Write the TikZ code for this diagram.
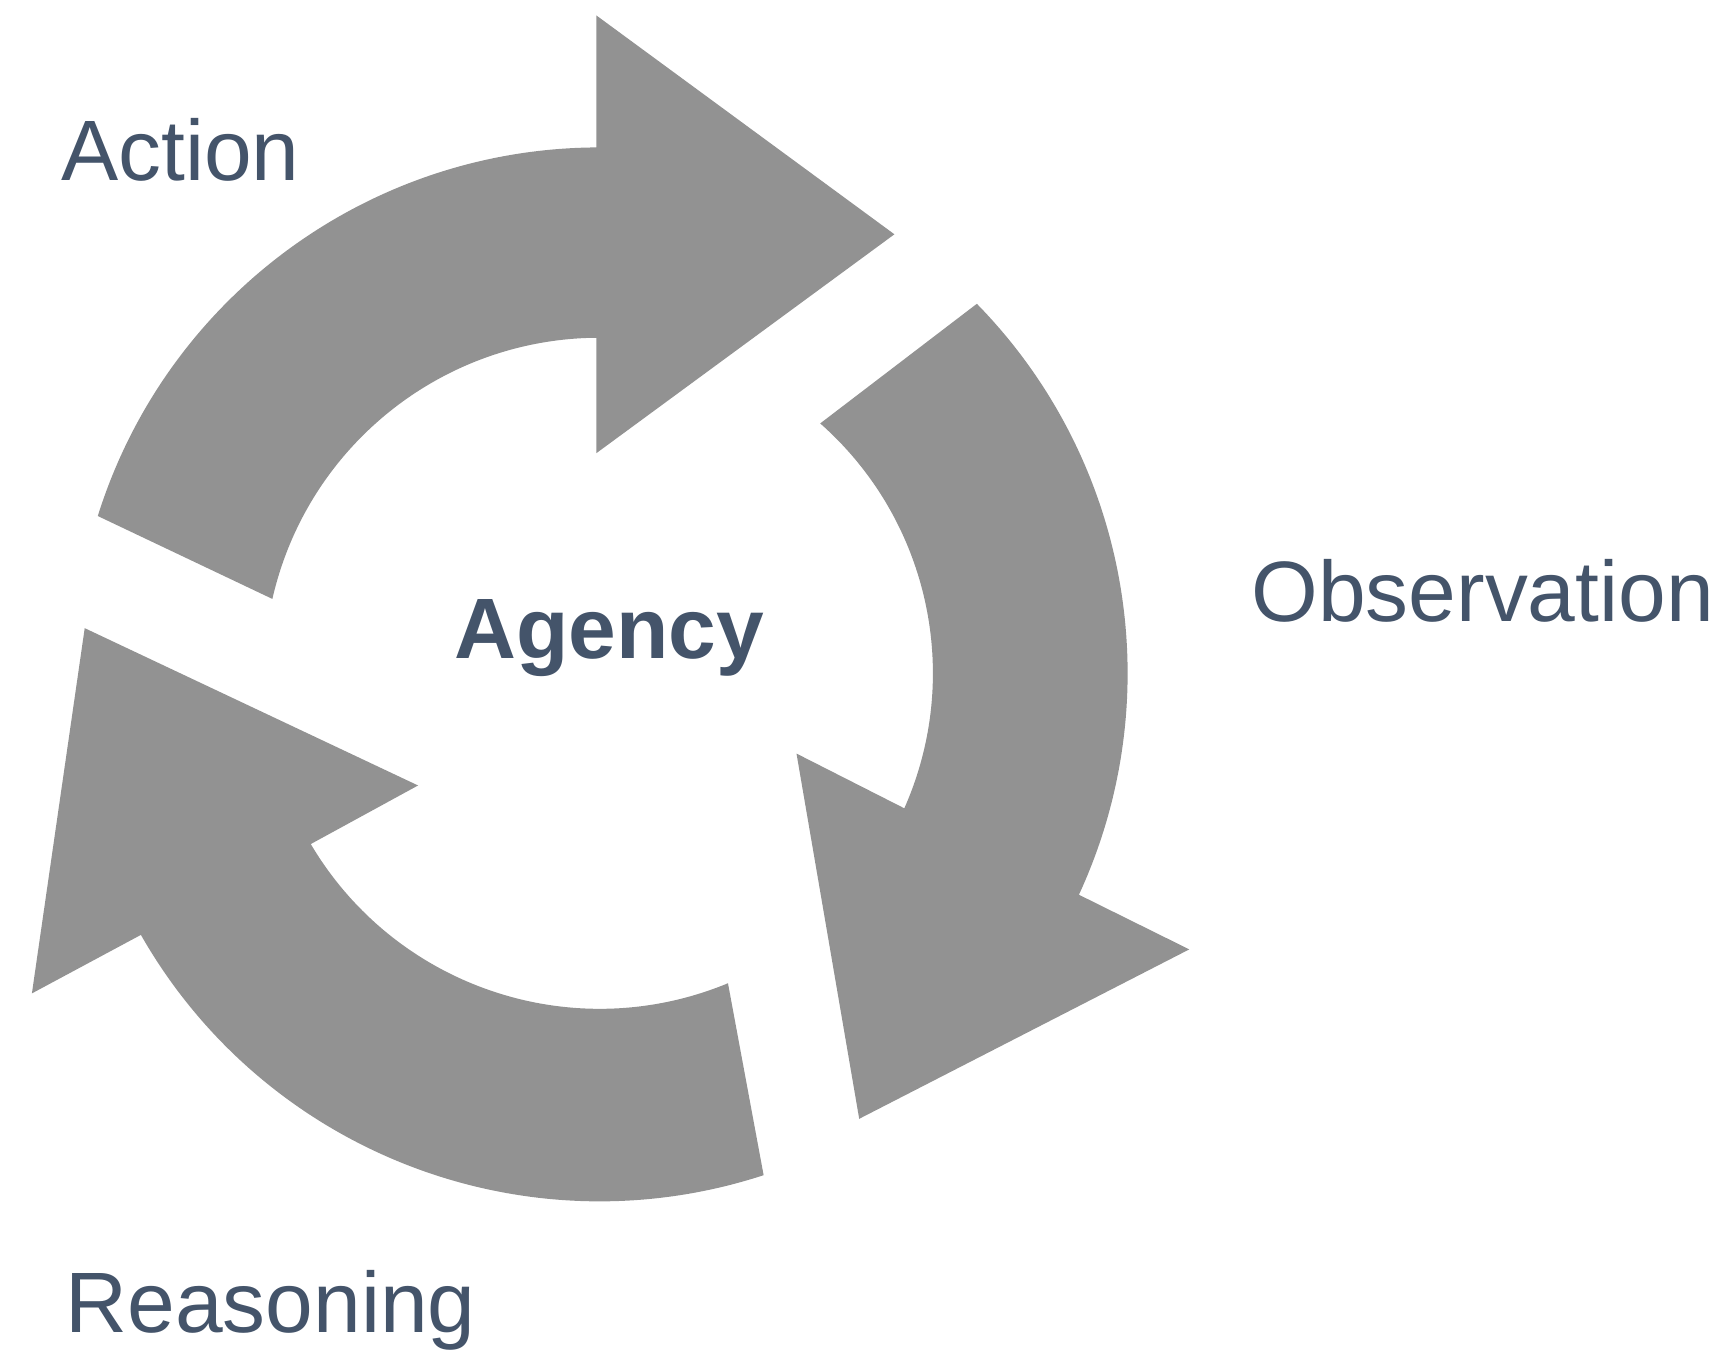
\documentclass[tikz,border=0pt]{standalone}
\usepackage{fontspec}
\setmainfont{Liberation Sans}
\usepackage{tikz}
\usetikzlibrary{positioning}
\definecolor{arrowgray}{HTML}{929292}
\definecolor{labelslate}{HTML}{44546A}

\begin{document}
\begin{tikzpicture}[x=0.11001mm, y=0.11001mm,
  arrowpart/.style = {fill=arrowgray, draw=none},
  label/.style = {text=labelslate, font=\fontsize{24.4}{28}\selectfont, inner sep=0pt}]
  \useasboundingbox (0,0) rectangle (1568,1229);
  % Centre of the cycle
  \coordinate (c) at (545,617);
  % Arrows
  \fill[arrowpart] ([shift={(162.6:478)}]c) arc[start angle=162.6, end angle=90.36, radius=478]
    -- (542,1215) -- (813,1016) -- (542,817)
    -- ([shift={(90.56:305)}]c) arc[start angle=90.56, end angle=167.2, radius=305] -- cycle;
  \fill[arrowpart] ([shift={(44.4:480)}]c) arc[start angle=44.4, end angle=-24.8, radius=480]
    -- (1081,366) -- (781,212) -- (724,544)
    -- ([shift={(-23.9:303)}]c) arc[start angle=-23.9, end angle=48.55, radius=303] -- cycle;
  \fill[arrowpart] ([shift={(-71.9:480)}]c) arc[start angle=-71.9, end angle=-150.3, radius=480]
    -- (29,326) -- (77,658) -- (380,515)
    -- ([shift={(-149.4:305)}]c) arc[start angle=-149.4, end angle=-67.5, radius=305] -- cycle;
  % Labels
  \node[label, anchor=base west] (action) at (55,1065) {Action};
  \node[label, anchor=base west] (observation) at (1137,664) {Observation};
  \node[label, anchor=base west] (reasoning) at (59,18) {Reasoning};
  \node[label, anchor=base, font=\fontsize{24.4}{28}\selectfont\bfseries] (agency) at (554,630) {Agency};
\end{tikzpicture}
\end{document}
